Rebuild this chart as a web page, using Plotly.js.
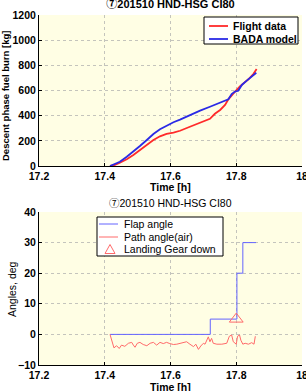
<!DOCTYPE html>
<html>
<head>
<meta charset="utf-8">
<script src="https://cdn.plot.ly/plotly-3.0.1.min.js"></script>
<style>
  html, body { margin: 0; padding: 0; background: #ffffff; }
  #chart { width: 306px; height: 391px; }
</style>
</head>
<body>
<div id="chart"></div>
<script>
// Descent phase fuel burn [kg] against time [h]
const flightT  = [17.416, 17.431, 17.446, 17.467, 17.487, 17.507, 17.528, 17.548, 17.568, 17.588, 17.609, 17.629, 17.659, 17.690, 17.720, 17.735, 17.751, 17.766, 17.776, 17.791, 17.801, 17.811, 17.821, 17.837, 17.852, 17.862];
const flightKg = [0, 8, 26, 53, 87, 127, 167, 207, 236, 255, 265, 280, 312, 344, 375, 415, 445, 485, 530, 575, 605, 632, 655, 689, 731, 770];

const badaT  = [17.416, 17.446, 17.467, 17.487, 17.507, 17.528, 17.548, 17.568, 17.588, 17.609, 17.629, 17.659, 17.690, 17.720, 17.751, 17.776, 17.786, 17.796, 17.806, 17.817, 17.832, 17.847, 17.861];
const badaKg = [0, 34, 74, 114, 159, 207, 254, 292, 322, 348, 368, 405, 440, 471, 503, 530, 572, 591, 598, 644, 678, 710, 741];

// Flap setting (deg), held until the next change
const flapT   = [17.416, 17.721, 17.802, 17.820, 17.860];
const flapDeg = [0, 5, 20, 30, 30];

// Air path angle (deg)
const pathT = [17.416, 17.424, 17.428, 17.436, 17.444, 17.451, 17.461, 17.472, 17.482, 17.487,
               17.492, 17.499, 17.507, 17.517, 17.528, 17.538, 17.548, 17.558, 17.568, 17.578,
               17.588, 17.598, 17.609, 17.619, 17.634, 17.649, 17.659, 17.670, 17.677, 17.685,
               17.692, 17.700, 17.705, 17.710, 17.715, 17.720, 17.725, 17.730, 17.741, 17.756,
               17.771, 17.779, 17.786, 17.791, 17.800, 17.804, 17.810, 17.814, 17.820, 17.827,
               17.837, 17.847, 17.854, 17.858];
const pathDeg = [0, -3.5, -4.4, -3.7, -4.6, -3.5, -3.9, -2.9, -2.6, -3.5,
                 -4.2, -2.9, -2.6, -3.3, -3.7, -2.9, -2.6, -3.5, -2.6, -3.0,
                 -2.6, -3.0, -3.3, -3.2, -2.7, -2.4, -3.2, -4.0, -3.2, -4.9,
                 -3.8, -2.9, -3.2, -1.9, -0.8, -2.4, -1.3, -2.9, -3.2, -3.2,
                 -2.9, -0.6, -0.2, -2.4, -3.2, -0.6, -0.2, -1.9, -3.2, -2.9,
                 -3.2, -2.7, -3.2, -0.6];

// Landing gear extension event
const gearT   = [17.80];
const gearDeg = [5];

const xTicks = [17.2, 17.4, 17.6, 17.8, 18];
const xTickText = ['17.2', '17.4', '17.6', '17.8', '18'];
const chartTitle = '⑦201510 HND-HSG CI80';
const topLegendNames = ['Flight data', 'BADA model'];
const bottomLegendNames = ['Flap angle', 'Path angle(air)', 'Landing Gear down'];

const FONT = 'Liberation Sans, Arial, Noto Sans CJK JP, sans-serif';
const RED_TOP = '#ff2a2a', BLUE_TOP = '#2a2ae6';
const RED_BOT = '#ff6a6a', BLUE_BOT = '#6464ff';

const traces = [
  { x: flightT, y: flightKg, name: topLegendNames[0], type: 'scatter', mode: 'lines',
    line: { color: RED_TOP, width: 1.8 }, xaxis: 'x', yaxis: 'y' },
  { x: badaT, y: badaKg, name: topLegendNames[1], type: 'scatter', mode: 'lines',
    line: { color: BLUE_TOP, width: 1.8 }, xaxis: 'x', yaxis: 'y' },
  { x: flapT, y: flapDeg, name: bottomLegendNames[0], type: 'scatter', mode: 'lines',
    line: { color: BLUE_BOT, width: 1, shape: 'hv' }, xaxis: 'x2', yaxis: 'y2' },
  { x: pathT, y: pathDeg, name: bottomLegendNames[1], type: 'scatter', mode: 'lines',
    line: { color: RED_BOT, width: 1 }, xaxis: 'x2', yaxis: 'y2' },
  { x: gearT, y: gearDeg, name: bottomLegendNames[2], type: 'scatter', mode: 'markers',
    marker: { symbol: 'triangle-up-open', size: 12, color: RED_BOT, line: { width: 1, color: RED_BOT } },
    xaxis: 'x2', yaxis: 'y2' }
];

const xCommon = {
  range: [17.2, 18], tickvals: xTicks, ticktext: xTickText,
  showgrid: true, gridcolor: '#c4c4bc', griddash: 'dot', gridwidth: 1,
  showline: true, linecolor: '#000000', linewidth: 1,
  ticks: 'inside', ticklen: 3, tickcolor: '#000000',
  tickfont: { family: FONT, size: 10.5, color: '#000000', weight: 'bold' },
  ticklabeloverflow: 'allow',
  zeroline: false, fixedrange: true
};

const yCommon = {
  showgrid: true, gridcolor: '#c4c4bc', griddash: 'dot', gridwidth: 1,
  showline: true, linecolor: '#000000', linewidth: 1,
  ticks: 'inside', ticklen: 3, tickcolor: '#000000',
  tickfont: { family: FONT, size: 10.5, color: '#000000', weight: 'bold' },
  ticklabeloverflow: 'allow',
  zeroline: false, fixedrange: true
};

// Plot area in pixels: x 39..302, y 15..365 (paper units span 350 px vertically)
const PX0 = 39, PW = 263, PYB = 365, PH = 350;
const px = v => (v - PX0) / PW;
const py = v => (PYB - v) / PH;

// Compact legend boxes built from shapes and annotations
function legendBox(x0, y0, x1, y1) {
  return { type: 'rect', xref: 'paper', yref: 'paper', x0: px(x0), x1: px(x1), y0: py(y1), y1: py(y0),
           fillcolor: '#ffffff', line: { color: '#000000', width: 1 }, layer: 'above' };
}
function legendLine(x0, x1, y, color, width) {
  return { type: 'line', xref: 'paper', yref: 'paper', x0: px(x0), x1: px(x1), y0: py(y), y1: py(y),
           line: { color: color, width: width }, layer: 'above' };
}
function legendTriangle(cx, cy, w, h, color) {
  const l = px(cx - w / 2), r = px(cx + w / 2), c = px(cx), b = py(cy + h / 2), t = py(cy - h / 2);
  return { type: 'path', xref: 'paper', yref: 'paper', path: `M${l},${b} L${r},${b} L${c},${t} Z`,
           fillcolor: 'rgba(0,0,0,0)', line: { color: color, width: 1 }, layer: 'above' };
}
function legendText(text, x, y, size, bold) {
  return { text: bold ? '<b>' + text + '</b>' : text, xref: 'paper', yref: 'paper', x: px(x), y: py(y),
           xanchor: 'left', yanchor: 'middle', showarrow: false,
           font: { family: FONT, size: size, color: '#000000' } };
}

const shapes = [
  legendBox(204, 17, 298, 44),
  legendLine(209, 228, 26, RED_TOP, 1.8),
  legendLine(209, 228, 39, BLUE_TOP, 1.8),
  legendBox(97, 217, 223, 256),
  legendLine(99, 118, 224, BLUE_BOT, 1),
  legendLine(99, 118, 237, RED_BOT, 1),
  legendTriangle(110, 249, 10, 9, RED_BOT)
];

const layout = {
  width: 306, height: 391,
  margin: { l: 39, r: 4, t: 15, b: 26, pad: 0 },
  paper_bgcolor: '#ffffff',
  plot_bgcolor: '#fffee4',
  font: { family: FONT, color: '#000000' },
  showlegend: false,
  title: {
    text: '<b>' + chartTitle + '</b>',
    font: { family: FONT, size: 11, color: '#000000' },
    xref: 'paper', x: 0.5, xanchor: 'center',
    yref: 'container', y: 0.99, yanchor: 'middle'
  },
  xaxis: Object.assign({}, xCommon, { domain: [0, 1], anchor: 'y' }),
  yaxis: Object.assign({}, yCommon, { domain: [py(166), 1], range: [0, 1200], dtick: 200, anchor: 'x' }),
  xaxis2: Object.assign({}, xCommon, { domain: [0, 1], anchor: 'y2' }),
  yaxis2: Object.assign({}, yCommon, { domain: [0, py(212)], range: [-10, 40], dtick: 10, anchor: 'x2' }),
  shapes: shapes,
  annotations: [
    { text: chartTitle, xref: 'paper', yref: 'paper', x: px(170), y: py(202.5),
      xanchor: 'center', yanchor: 'middle', showarrow: false,
      font: { family: FONT, size: 10.5, color: '#000000' } },
    { text: '<b>Time [h]</b>', xref: 'paper', yref: 'paper', x: px(170), y: py(187),
      xanchor: 'center', yanchor: 'middle', showarrow: false,
      font: { family: FONT, size: 10.5, color: '#000000' } },
    { text: '<b>Time [h]</b>', xref: 'paper', yref: 'paper', x: px(170), y: py(387),
      xanchor: 'center', yanchor: 'middle', showarrow: false,
      font: { family: FONT, size: 10.5, color: '#000000' } },
    { text: '<b>Descent phase fuel burn [kg]</b>', xref: 'paper', yref: 'paper', x: px(5), y: py(96),
      xanchor: 'center', yanchor: 'middle', textangle: -90, showarrow: false,
      font: { family: FONT, size: 9.5, color: '#000000' } },
    { text: 'Angles, deg', xref: 'paper', yref: 'paper', x: px(12), y: py(289),
      xanchor: 'center', yanchor: 'middle', textangle: -90, showarrow: false,
      font: { family: FONT, size: 10.5, color: '#000000' } },
    legendText(topLegendNames[0], 231, 26, 10.5, true),
    legendText(topLegendNames[1], 231, 39, 10.5, true),
    legendText(bottomLegendNames[0], 122, 224, 10.5, false),
    legendText(bottomLegendNames[1], 122, 237, 10.5, false),
    legendText(bottomLegendNames[2], 122, 249, 10.5, false)
  ]
};

Plotly.newPlot('chart', traces, layout, { displayModeBar: false, staticPlot: true });
</script>
</body>
</html>
